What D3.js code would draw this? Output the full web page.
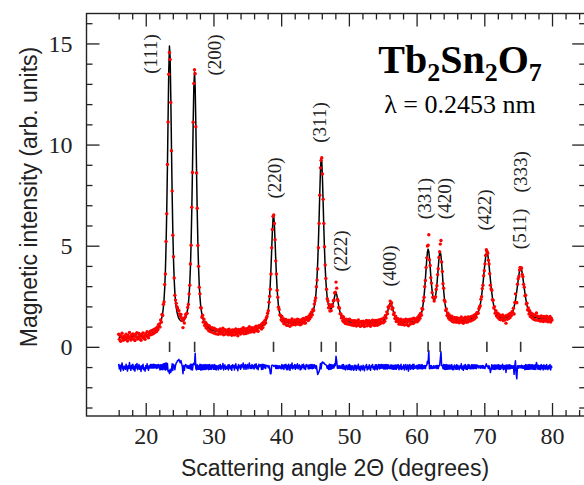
<!DOCTYPE html>
<html><head><meta charset="utf-8">
<script src="https://cdn.jsdelivr.net/npm/d3@7"></script>
<style>body{margin:0;background:#fff}</style>
</head><body>
<svg id="chart" width="584" height="485"></svg>
<script>
// ---------------- data ----------------
const angleStart = 16.0, angleStep = 0.1;   // 2-theta grid (degrees)

const observed = [
0.62,0.37,0.56,0.27,0.51,0.67,0.41,0.32,0.53,0.46,
0.37,0.62,0.45,0.29,0.56,0.42,0.71,0.46,0.34,0.59,
0.43,0.64,0.38,0.55,0.31,0.62,0.47,0.70,0.39,0.48,
0.66,0.42,0.57,0.32,0.61,0.48,0.69,0.43,0.52,0.37,
0.65,0.52,0.75,0.55,0.45,0.69,0.58,0.77,0.61,0.80,
0.63,0.84,0.67,0.87,0.73,0.91,0.76,0.98,0.86,1.10,
1.13,0.98,1.33,1.22,1.60,1.55,2.10,2.22,3.08,3.60,
5.21,6.58,9.02,11.12,13.48,14.55,14.21,12.08,9.70,7.71,
5.52,4.45,3.40,2.55,2.31,2.15,1.98,1.92,1.80,1.78,
1.63,1.52,1.60,1.43,1.30,0.95,1.38,1.18,1.46,1.60,
1.63,1.66,1.95,2.09,2.61,3.05,4.10,5.02,6.90,8.62,
11.10,13.02,13.70,13.50,10.88,8.60,6.85,5.01,3.98,2.95,
2.62,1.94,1.92,1.46,1.56,1.22,1.37,1.06,1.22,0.94,
1.13,0.89,1.06,0.79,1.03,0.77,0.95,0.73,0.94,0.89,
0.69,0.92,0.67,0.87,0.64,0.84,0.81,0.62,0.84,0.68,
0.88,0.64,0.80,0.69,0.92,0.60,0.79,0.85,0.63,0.76,
0.67,0.83,0.60,0.87,0.72,0.64,0.80,0.57,0.84,0.71,
0.82,0.59,0.77,0.89,0.66,0.75,0.55,0.86,0.69,0.80,
0.63,0.87,0.70,0.82,0.95,0.65,0.80,0.89,0.66,0.82,
0.91,0.69,0.84,0.99,0.73,0.87,0.74,0.94,0.77,0.89,
0.73,0.97,0.83,1.02,0.79,0.93,0.77,1.05,0.95,1.05,
1.08,0.88,1.16,0.95,1.22,1.10,1.30,1.18,1.42,1.50,
1.66,1.78,2.21,2.50,2.85,3.60,4.90,5.80,6.45,6.52,
6.10,5.30,4.25,3.60,2.80,2.45,1.96,1.85,1.58,1.55,
1.34,1.50,1.26,1.39,1.14,1.35,1.18,1.35,1.07,1.27,
1.06,1.32,1.22,1.02,1.29,1.13,1.38,1.09,1.25,1.15,
1.33,1.09,1.29,1.16,1.37,1.12,1.26,1.33,1.09,1.28,
1.13,1.36,1.23,1.40,1.18,1.33,1.18,1.45,1.37,1.45,
1.30,1.53,1.38,1.62,1.47,1.72,1.58,1.86,1.80,2.12,
2.28,2.42,2.97,3.30,3.85,4.90,6.10,7.50,8.85,9.22,
9.35,8.55,7.30,6.10,4.95,4.05,3.38,2.85,2.38,2.27,
1.93,2.10,1.77,1.99,1.79,2.08,2.00,2.28,2.30,2.66,
2.70,3.20,2.90,2.36,2.28,1.96,1.91,1.64,1.63,1.43,
1.53,1.29,1.48,1.22,1.34,1.15,1.37,1.28,1.13,1.34,
1.13,1.36,1.10,1.30,1.08,1.29,1.17,1.05,1.29,1.11,
1.28,1.03,1.24,1.12,1.33,1.06,1.21,1.01,1.26,1.14,
1.05,1.27,1.11,1.00,1.23,1.16,1.31,1.04,1.20,1.09,
1.29,1.11,1.02,1.26,1.17,1.32,1.09,1.21,1.05,1.30,
1.10,1.30,1.07,1.22,1.33,1.12,1.33,1.16,1.37,1.20,
1.38,1.19,1.44,1.26,1.55,1.42,1.73,1.63,1.97,1.92,
2.03,2.26,2.07,2.18,1.86,1.92,1.60,1.68,1.40,1.52,
1.25,1.42,1.25,1.38,1.12,1.30,1.14,1.36,1.10,1.25,
1.15,1.33,1.08,1.27,1.36,1.10,1.19,1.34,1.04,1.29,
1.37,1.13,1.32,1.18,1.39,1.15,1.41,1.21,1.34,1.25,
1.40,1.24,1.47,1.31,1.56,1.41,1.66,1.56,1.90,1.86,
2.27,2.45,2.97,3.28,3.92,4.40,4.98,5.02,5.54,4.30,
4.02,3.42,3.15,2.68,2.45,2.42,2.26,2.41,2.47,2.84,
3.02,3.57,3.86,4.42,4.70,5.08,5.26,4.20,3.73,3.12,
2.90,2.30,2.23,1.80,1.87,1.55,1.68,1.42,1.59,1.35,
1.52,1.32,1.51,1.25,1.40,1.23,1.45,1.36,1.23,1.44,
1.22,1.42,1.28,1.19,1.39,1.27,1.48,1.21,1.36,1.16,
1.41,1.25,1.46,1.22,1.39,1.22,1.48,1.29,1.46,1.28,
1.29,1.50,1.32,1.52,1.35,1.56,1.40,1.60,1.46,1.69,
1.70,1.66,1.88,1.97,2.03,2.35,2.48,2.88,3.05,3.52,
3.76,4.10,4.52,4.80,4.72,4.63,4.28,4.10,3.61,3.05,
2.86,2.80,2.33,2.30,1.92,1.99,1.66,1.79,1.53,1.67,
1.45,1.63,1.37,1.56,1.34,1.53,1.39,1.57,1.30,1.50,
1.33,1.52,1.17,1.55,1.36,1.58,1.40,1.62,1.45,1.66,
1.55,1.74,1.70,1.91,1.62,2.19,2.62,2.20,2.18,3.10,
3.36,3.48,3.80,3.93,3.85,3.90,3.58,3.47,3.09,2.95,
2.52,2.55,2.12,2.16,1.82,1.92,1.62,1.78,1.50,1.67,
1.45,1.63,1.39,1.57,1.35,1.56,1.33,1.67,1.52,1.32,
1.50,1.30,1.47,1.27,1.53,1.33,1.46,1.25,1.50,1.30,
1.45,1.27,1.51,1.33,1.24,1.44,1.30,1.50,1.23,1.42,
1.33];

const calculated = [
0.46,0.46,0.47,0.47,0.47,0.47,0.48,0.48,0.48,0.48,
0.48,0.48,0.49,0.49,0.49,0.49,0.49,0.50,0.50,0.50,
0.50,0.50,0.51,0.51,0.51,0.51,0.52,0.52,0.52,0.52,
0.53,0.53,0.53,0.54,0.54,0.55,0.55,0.56,0.56,0.57,
0.58,0.59,0.59,0.60,0.61,0.62,0.63,0.64,0.66,0.67,
0.68,0.70,0.72,0.74,0.77,0.80,0.83,0.87,0.91,0.97,
1.04,1.12,1.22,1.34,1.48,1.68,1.94,2.33,2.90,3.75,
5.00,6.70,8.85,11.34,13.66,14.87,14.32,12.34,9.86,7.55,
5.69,4.31,3.33,2.68,2.23,1.95,1.74,1.60,1.48,1.40,
1.35,1.31,1.28,1.27,1.27,1.28,1.30,1.34,1.39,1.47,
1.57,1.71,1.88,2.15,2.54,3.12,3.96,5.15,6.76,8.76,
10.96,12.83,13.59,12.82,10.95,8.74,6.73,5.12,3.91,3.06,
2.48,2.08,1.80,1.60,1.46,1.34,1.25,1.18,1.10,1.06,
1.02,0.98,0.95,0.92,0.90,0.88,0.86,0.84,0.83,0.82,
0.80,0.79,0.78,0.78,0.78,0.77,0.76,0.76,0.75,0.75,
0.75,0.75,0.75,0.74,0.74,0.74,0.74,0.74,0.74,0.74,
0.74,0.74,0.74,0.74,0.74,0.73,0.73,0.73,0.73,0.73,
0.73,0.73,0.73,0.73,0.73,0.73,0.73,0.73,0.73,0.73,
0.74,0.74,0.74,0.75,0.75,0.76,0.76,0.76,0.77,0.77,
0.78,0.78,0.79,0.79,0.80,0.80,0.81,0.81,0.82,0.82,
0.83,0.84,0.85,0.86,0.87,0.88,0.90,0.91,0.93,0.95,
0.97,1.00,1.02,1.06,1.09,1.14,1.19,1.25,1.33,1.45,
1.59,1.82,2.14,2.57,3.18,3.93,4.82,5.71,6.36,6.49,
6.04,5.21,4.32,3.52,2.87,2.38,2.03,1.79,1.63,1.51,
1.43,1.37,1.33,1.30,1.26,1.24,1.22,1.21,1.20,1.19,
1.19,1.18,1.18,1.18,1.18,1.18,1.18,1.18,1.18,1.19,
1.20,1.20,1.20,1.20,1.21,1.21,1.22,1.22,1.23,1.23,
1.23,1.24,1.25,1.26,1.27,1.28,1.30,1.32,1.34,1.36,
1.39,1.43,1.46,1.50,1.54,1.60,1.66,1.74,1.86,2.01,
2.21,2.49,2.90,3.46,4.22,5.18,6.33,7.58,8.68,9.31,
9.15,8.30,7.10,5.88,4.80,3.92,3.27,2.78,2.44,2.21,
2.05,1.96,1.89,1.87,1.89,1.96,2.06,2.18,2.34,2.50,
2.63,2.67,2.59,2.42,2.22,2.02,1.85,1.70,1.58,1.49,
1.42,1.38,1.35,1.32,1.30,1.29,1.28,1.26,1.25,1.24,
1.24,1.23,1.23,1.23,1.22,1.22,1.21,1.21,1.20,1.20,
1.19,1.19,1.19,1.19,1.19,1.19,1.19,1.19,1.19,1.18,
1.18,1.18,1.18,1.18,1.18,1.18,1.18,1.18,1.18,1.18,
1.18,1.18,1.18,1.18,1.18,1.19,1.19,1.19,1.19,1.19,
1.19,1.19,1.20,1.20,1.20,1.21,1.22,1.23,1.24,1.25,
1.27,1.28,1.32,1.36,1.43,1.51,1.61,1.72,1.85,1.98,
2.10,2.16,2.15,2.08,1.96,1.83,1.71,1.59,1.50,1.42,
1.36,1.32,1.29,1.26,1.25,1.24,1.23,1.22,1.22,1.22,
1.22,1.22,1.22,1.22,1.23,1.23,1.23,1.23,1.24,1.24,
1.24,1.24,1.25,1.25,1.26,1.26,1.27,1.28,1.29,1.30,
1.32,1.34,1.37,1.39,1.44,1.49,1.56,1.64,1.77,1.95,
2.20,2.51,2.89,3.35,3.84,4.32,4.69,4.83,4.72,4.38,
3.94,3.49,3.08,2.75,2.51,2.36,2.32,2.36,2.52,2.76,
3.09,3.49,3.93,4.34,4.63,4.69,4.50,4.12,3.66,3.19,
2.77,2.41,2.12,1.92,1.75,1.66,1.58,1.52,1.49,1.45,
1.43,1.41,1.39,1.38,1.36,1.36,1.35,1.34,1.34,1.33,
1.33,1.33,1.32,1.32,1.32,1.32,1.32,1.32,1.32,1.32,
1.32,1.32,1.33,1.33,1.34,1.34,1.35,1.35,1.36,1.37,
1.38,1.39,1.40,1.41,1.43,1.45,1.47,1.50,1.54,1.58,
1.64,1.71,1.81,1.93,2.09,2.28,2.52,2.80,3.11,3.46,
3.82,4.17,4.45,4.64,4.69,4.58,4.35,4.03,3.68,3.32,
2.99,2.69,2.43,2.21,2.03,1.89,1.78,1.69,1.62,1.57,
1.54,1.52,1.49,1.47,1.45,1.45,1.44,1.43,1.43,1.43,
1.43,1.43,1.44,1.45,1.45,1.48,1.49,1.51,1.54,1.57,
1.61,1.68,1.76,1.85,1.98,2.13,2.31,2.53,2.76,3.03,
3.30,3.54,3.74,3.87,3.89,3.81,3.64,3.41,3.15,2.89,
2.65,2.42,2.23,2.06,1.93,1.81,1.73,1.66,1.60,1.56,
1.54,1.52,1.50,1.48,1.46,1.45,1.45,1.44,1.43,1.42,
1.41,1.41,1.40,1.40,1.40,1.40,1.39,1.39,1.39,1.39,
1.38,1.38,1.38,1.38,1.37,1.37,1.37,1.37,1.37,1.37,
1.37];

const differenceOffset = -1;  // observed - calculated, shifted down

const braggPositions = [23.52, 27.22, 38.87, 45.93, 48.10, 56.14, 61.70, 63.48, 70.38, 75.37];
const reflectionLabels = ["(111)", "(200)", "(220)", "(311)", "(222)", "(400)", "(331)", "(420)", "(422)", "(511)", "(333)"];

const xMajorTicks = [20, 30, 40, 50, 60, 70, 80];
const xMinorTicks = [16, 18, 22, 24, 26, 28, 32, 34, 36, 38, 42, 44, 46, 48, 52, 54, 56, 58, 62, 64, 66, 68, 72, 74, 76, 78, 82, 84];
const yMajorTicks = [0, 5, 10, 15];
const yMinorTicks = [-3, -2, -1, 1, 2, 3, 4, 6, 7, 8, 9, 11, 12, 13, 14, 16];

// ---------------- layout ----------------
// label anchor (angle, intensity) = centre of each rotated hkl label
const labelAnchors = [[20.78, 14.48], [30.24, 14.43], [39.10, 8.35], [45.75, 11.09], [48.85, 4.74],
  [56.09, 4.00], [61.21, 7.33], [64.21, 7.33], [70.12, 6.77], [75.29, 5.83], [75.35, 8.65]];

const W = 584, H = 485;
const svg = d3.select("#chart");
svg.append("rect").attr("width", W).attr("height", H).attr("fill", "#fff");

const x = d3.scaleLinear().domain([11.25, 84.9]).range([86.5, 585.2]);
const y = d3.scaleLinear().domain([-3.42, 16.48]).range([416, 13.5]);

const serif = "'Liberation Serif', 'Times New Roman', serif";
const sans = "'Liberation Sans', Arial, sans-serif";
const ink = "#222";

const pts = observed.map((v, i) => ({ a: angleStart + i * angleStep, obs: v, calc: calculated[i] }));

// clip
svg.append("defs").append("clipPath").attr("id", "clip")
  .append("rect").attr("x", 86.5).attr("y", 13.5).attr("width", 498.7).attr("height", 402.5);
const plot = svg.append("g").attr("clip-path", "url(#clip)");

// difference curve
plot.append("path").datum(pts)
  .attr("fill", "none").attr("stroke", "#0000ff").attr("stroke-width", 1.5)
  .attr("stroke-linejoin", "round")
  .attr("d", d3.line().x(d => x(d.a)).y(d => y(d.obs - d.calc + differenceOffset)));

// Bragg ticks
plot.selectAll("line.bragg").data(braggPositions).join("line")
  .attr("class", "bragg")
  .attr("x1", d => x(d)).attr("x2", d => x(d))
  .attr("y1", y(0.25)).attr("y2", y(-0.25))
  .attr("stroke", "#333").attr("stroke-width", 1.6);

// calculated curve
plot.append("path").datum(pts)
  .attr("fill", "none").attr("stroke", "#000").attr("stroke-width", 1.5)
  .attr("stroke-linejoin", "round")
  .attr("d", d3.line().x(d => x(d.a)).y(d => y(d.calc)));

// observed points
plot.selectAll("circle.obs").data(pts).join("circle")
  .attr("class", "obs")
  .attr("cx", d => x(d.a)).attr("cy", d => y(d.obs)).attr("r", 1.7)
  .attr("fill", "#ff0000");

// axes ticks
function styleAxis(g) {
  g.select(".domain").remove();
  g.selectAll(".tick line").attr("stroke", ink).attr("stroke-width", 1.3);
  g.selectAll(".tick text").attr("fill", ink).attr("font-family", serif).attr("font-size", 24);
}
svg.append("g").attr("transform", "translate(0,416)")
  .call(d3.axisBottom(x).tickValues(xMinorTicks).tickSize(-6).tickFormat("")).call(styleAxis);
svg.append("g").attr("transform", "translate(0,416)")
  .call(d3.axisBottom(x).tickValues(xMajorTicks).tickSize(-13).tickPadding(11).tickFormat(d3.format("d"))).call(styleAxis);
svg.append("g").attr("transform", "translate(0,13.5)")
  .call(d3.axisTop(x).tickValues(xMinorTicks).tickSize(-6).tickFormat("")).call(styleAxis);
svg.append("g").attr("transform", "translate(0,13.5)")
  .call(d3.axisTop(x).tickValues(xMajorTicks).tickSize(-13).tickFormat("")).call(styleAxis);
svg.append("g").attr("transform", "translate(86.5,0)")
  .call(d3.axisLeft(y).tickValues(yMinorTicks).tickSize(-6).tickFormat("")).call(styleAxis);
svg.append("g").attr("transform", "translate(86.5,0)")
  .call(d3.axisLeft(y).tickValues(yMajorTicks).tickSize(-13).tickPadding(14).tickFormat(d3.format("d"))).call(styleAxis);
svg.append("g").attr("transform", "translate(585.2,0)")
  .call(d3.axisRight(y).tickValues(yMinorTicks).tickSize(-6).tickFormat("")).call(styleAxis);
svg.append("g").attr("transform", "translate(585.2,0)")
  .call(d3.axisRight(y).tickValues(yMajorTicks).tickSize(-13).tickFormat("")).call(styleAxis);

// frame
svg.append("rect").attr("x", 86.5).attr("y", 13.5).attr("width", 498.7).attr("height", 402.5)
  .attr("fill", "none").attr("stroke", ink).attr("stroke-width", 1.4);

// hkl labels
svg.selectAll("text.hkl").data(reflectionLabels).join("text")
  .attr("class", "hkl")
  .attr("transform", (d, i) => `translate(${x(labelAnchors[i][0])},${y(labelAnchors[i][1])}) rotate(-90)`)
  .attr("text-anchor", "middle").attr("dy", "0.33em")
  .attr("font-family", serif).attr("font-size", 19).attr("fill", ink)
  .text(d => d);

// axis titles
svg.append("text").attr("x", 335).attr("y", 476).attr("text-anchor", "middle")
  .attr("font-family", sans).attr("font-size", 23).attr("fill", ink)
  .text("Scattering angle 2\u0398 (degrees)");
svg.append("text").attr("transform", "translate(37,197) rotate(-90)").attr("text-anchor", "middle")
  .attr("font-family", sans).attr("font-size", 23).attr("fill", ink)
  .text("Magnetic intensity (arb. units)");

// title block
const t = svg.append("text").attr("x", 460).attr("y", 72.5).attr("text-anchor", "middle")
  .attr("font-family", serif).attr("font-weight", "bold").attr("font-size", 40).attr("fill", "#000");
t.append("tspan").text("Tb");
t.append("tspan").attr("font-size", 26).attr("dy", 8).text("2");
t.append("tspan").attr("dy", -8).text("Sn");
t.append("tspan").attr("font-size", 26).attr("dy", 8).text("2");
t.append("tspan").attr("dy", -8).text("O");
t.append("tspan").attr("font-size", 26).attr("dy", 8).text("7");
svg.append("text").attr("x", 460).attr("y", 112.5).attr("text-anchor", "middle")
  .attr("font-family", serif).attr("font-size", 26).attr("fill", "#000")
  .text("\u03BB = 0.2453 nm");
</script>
</body></html>
